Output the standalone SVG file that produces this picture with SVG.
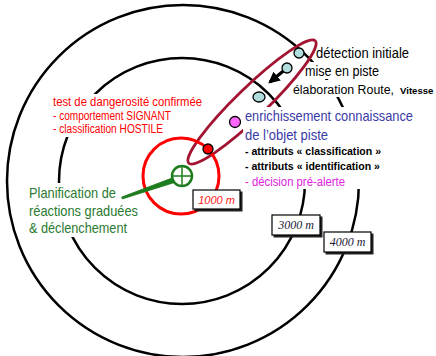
<svg xmlns="http://www.w3.org/2000/svg" width="436" height="356" viewBox="0 0 436 356">
<style>
.ring{fill:none;stroke:#000;stroke-width:2.5}
.bg{fill:#fff}
.dot{stroke:#000;stroke-width:1.3}
.blue{fill:#b0dcdc}
.t{font-family:"Liberation Sans",Arial,sans-serif}
.lbl{fill:#fff;stroke:#000;stroke-width:1.2}
.shadow{fill:#222}
</style>
<defs>
<marker id="ah" viewBox="0 0 10 10" refX="8" refY="5" markerWidth="3.6" markerHeight="3.6" orient="auto" markerUnits="strokeWidth">
<path d="M0,0 L10,5 L0,10 z" fill="#000"/>
</marker>
</defs>
<rect width="436" height="356" fill="#fff"/>
<g id="rings">
<circle class="ring" cx="183" cy="181" r="176"/>
<circle class="ring" cx="182" cy="181" r="123"/>
</g>
<g id="top-text-bg">
<rect class="bg" x="313" y="44" width="123" height="17"/>
<rect class="bg" x="303" y="62" width="133" height="17"/>
<rect class="bg" x="292" y="80" width="144" height="17"/>
</g>
<g id="test-bg"><rect class="bg" x="50" y="94" width="156" height="43"/></g>
<g id="green-bg"><rect class="bg" x="27" y="183" width="113" height="54"/></g>
<g id="track-ellipse">
<ellipse cx="252" cy="102" rx="88" ry="15" transform="rotate(-44 252 102)" fill="none" stroke="#a31432" stroke-width="2.8"/>
</g>
<g id="zone-1000">
<circle cx="181" cy="176" r="38" fill="none" stroke="#ff0000" stroke-width="3"/>
</g>
<g id="info-bg"><rect class="bg" x="243" y="107" width="193" height="82"/></g>
<g id="connectors">
<line x1="287" y1="68" x2="270" y2="82" stroke="#000" stroke-width="3.2" marker-end="url(#ah)"/>
<polygon points="121.7,197.1 173.2,177.6 174.8,182.4 122.3,198.9" fill="#1e7b1e" stroke="#1e7b1e" stroke-width="0.8"/>
</g>
<g id="plots">
<circle class="dot blue" cx="299" cy="53" r="5"/>
<circle class="dot blue" cx="287" cy="68" r="5"/>
<ellipse class="dot blue" cx="259" cy="97" rx="6" ry="5"/>
<circle class="dot" cx="235" cy="122" r="5.5" fill="#ff66ff"/>
<circle class="dot" cx="208" cy="149" r="5" fill="#ff0000"/>
</g>
<g id="target">
<circle cx="182" cy="176" r="10" fill="#fff" stroke="#1e7b1e" stroke-width="2.5"/>
<line x1="172" y1="176" x2="192" y2="176" stroke="#1e7b1e" stroke-width="1.5"/>
<line x1="182" y1="166" x2="182" y2="186" stroke="#1e7b1e" stroke-width="1.5"/>
</g>
<g id="text-detection" class="t" font-size="14" fill="#000">
<text x="316" y="58" textLength="93" lengthAdjust="spacingAndGlyphs">détection initiale</text>
<text x="305" y="76" textLength="74" lengthAdjust="spacingAndGlyphs">mise en piste</text>
<text x="293" y="94" font-size="12.5"><tspan textLength="101" lengthAdjust="spacingAndGlyphs">élaboration Route,</tspan><tspan x="400" font-size="9.6" font-weight="900">Vitesse</tspan></text>
</g>
<g id="text-test" class="t" font-size="12" fill="#ff0000">
<text x="53" y="106" textLength="149" lengthAdjust="spacingAndGlyphs">test de dangerosité confirmée</text>
<text x="53" y="120" textLength="118" lengthAdjust="spacingAndGlyphs">- comportement SIGNANT</text>
<text x="53" y="133" textLength="110" lengthAdjust="spacingAndGlyphs">- classification HOSTILE</text>
</g>
<g id="text-enrich" class="t">
<text x="245" y="121" font-size="14.5" fill="#3a3aa8" textLength="168" lengthAdjust="spacingAndGlyphs">enrichissement connaissance</text>
<text x="245" y="140" font-size="14.5" fill="#3a3aa8" textLength="83" lengthAdjust="spacingAndGlyphs">de l’objet piste</text>
<text x="245" y="155" font-size="11.5" font-weight="bold" fill="#000" textLength="136" lengthAdjust="spacingAndGlyphs">- attributs « classification »</text>
<text x="245" y="170" font-size="11.5" font-weight="bold" fill="#000" textLength="135" lengthAdjust="spacingAndGlyphs">- attributs « identification »</text>
<text x="245" y="186" font-size="12" fill="#e020e0" textLength="100" lengthAdjust="spacingAndGlyphs">- décision pré-alerte</text>
</g>
<g id="text-planif" class="t" font-size="14.5" fill="#2a7a30">
<text x="29" y="198" textLength="87" lengthAdjust="spacingAndGlyphs">Planification de</text>
<text x="29" y="216" textLength="109" lengthAdjust="spacingAndGlyphs">réactions graduées</text>
<text x="29" y="233" textLength="98" lengthAdjust="spacingAndGlyphs">&amp; déclenchement</text>
</g>
<g id="label-1000">
<rect class="shadow" x="194.5" y="191.5" width="48" height="20"/>
<rect class="lbl" x="193" y="190" width="47" height="19"/>
<text x="216.5" y="204" text-anchor="middle" class="t" font-size="11" font-style="italic" fill="#ff2020">1000 m</text>
</g>
<g id="label-3000">
<rect class="shadow" x="273.5" y="216.5" width="49" height="21"/>
<rect class="lbl" x="272" y="215" width="48" height="20"/>
<text x="296" y="229" text-anchor="middle" font-family="Liberation Serif,Times New Roman,serif" font-size="12" font-style="italic" fill="#1a1a33">3000 m</text>
</g>
<g id="label-4000">
<rect class="shadow" x="325.5" y="233.5" width="48" height="21"/>
<rect class="lbl" x="324" y="232" width="47" height="20"/>
<text x="347.5" y="246" text-anchor="middle" font-family="Liberation Serif,Times New Roman,serif" font-size="12" font-style="italic" fill="#1a1a33">4000 m</text>
</g>
</svg>
